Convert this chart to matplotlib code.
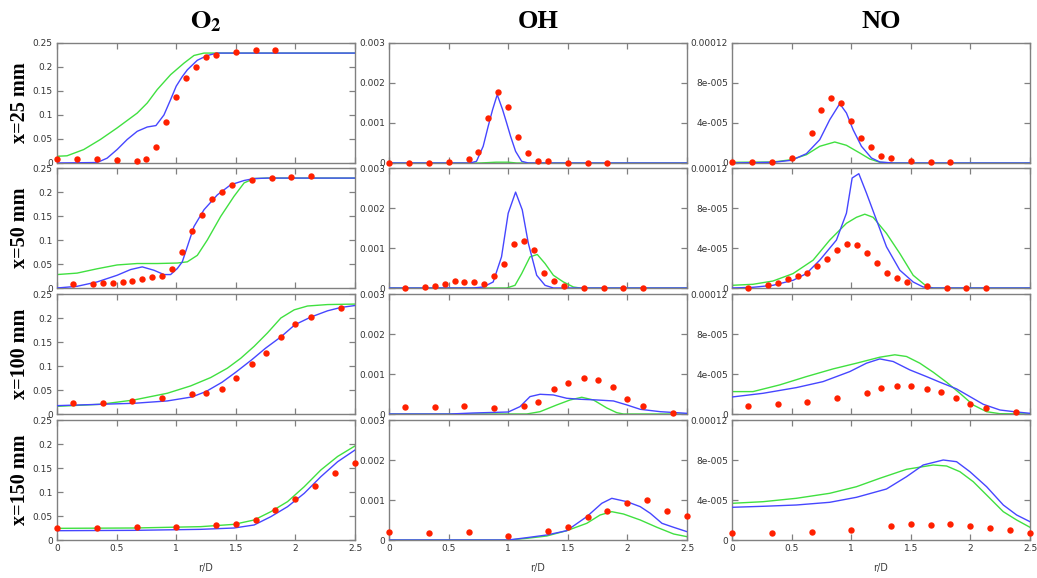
import matplotlib
matplotlib.use("Agg")
import matplotlib.pyplot as plt
import numpy as np

# measured radial positions (r/D) for each axial station
r25 = [0, 0.167, 0.333, 0.5, 0.667, 0.75, 0.833, 0.917, 1.0, 1.083, 1.167, 1.25, 1.333, 1.5, 1.667, 1.833]
r50 = [0.133, 0.3, 0.383, 0.467, 0.55, 0.633, 0.717, 0.8, 0.883, 0.967, 1.05, 1.133, 1.217, 1.3,
       1.383, 1.467, 1.633, 1.8, 1.967, 2.133]
r100 = [0.133, 0.383, 0.633, 0.883, 1.133, 1.25, 1.383, 1.5, 1.633, 1.75, 1.883, 2.0, 2.133, 2.383]
r150 = [0, 0.333, 0.667, 1.0, 1.333, 1.5, 1.667, 1.833, 2.0, 2.167, 2.333, 2.5]

# ---- O2 ----
o2_25_exp = [0.008, 0.008, 0.008, 0.006, 0.004, 0.008, 0.033, 0.085, 0.137, 0.178, 0.201, 0.22, 0.226,
             0.232, 0.235, 0.235]
o2_25_a_r = [0, 0.336, 0.42, 0.504, 0.589, 0.673, 0.757, 0.83, 0.897, 0.953, 1.0, 1.051, 1.093, 1.177,
             1.261, 1.345, 2.5]
o2_25_a = [0, 0.001, 0.010, 0.028, 0.049, 0.066, 0.075, 0.078, 0.1, 0.132, 0.16, 0.18, 0.194, 0.214,
           0.224, 0.229, 0.229]
o2_25_b_r = [0, 0.084, 0.224, 0.364, 0.504, 0.673, 0.757, 0.841, 0.953, 1.065, 1.149, 1.233, 2.5]
o2_25_b = [0.014, 0.015, 0.028, 0.049, 0.073, 0.104, 0.125, 0.153, 0.184, 0.208, 0.224, 0.229, 0.229]

o2_50_exp = [0.008, 0.008, 0.010, 0.011, 0.012, 0.014, 0.018, 0.022, 0.024, 0.040, 0.075, 0.119, 0.153,
             0.186, 0.201, 0.214, 0.224, 0.229, 0.231, 0.233]
o2_50_a_r = [0, 0.168, 0.336, 0.504, 0.617, 0.715, 0.813, 0.897, 0.953, 1.009, 1.051, 1.093, 1.149,
             1.233, 1.345, 1.457, 1.57, 1.654, 1.766, 2.5]
o2_50_a = [0, 0.0035, 0.0126, 0.0265, 0.0384, 0.044, 0.037, 0.028, 0.028, 0.0405, 0.0545, 0.0859,
           0.128, 0.163, 0.194, 0.215, 0.224, 0.228, 0.229, 0.229]
o2_50_b_r = [0, 0.168, 0.336, 0.504, 0.673, 0.841, 1.009, 1.093, 1.177, 1.261, 1.373, 1.485, 1.57,
             1.654, 1.766, 2.5]
o2_50_b = [0.028, 0.031, 0.040, 0.048, 0.051, 0.051, 0.052, 0.0545, 0.068, 0.100, 0.149, 0.191, 0.219,
           0.228, 0.229, 0.229]

o2_100_exp = [0.022, 0.022, 0.027, 0.033, 0.041, 0.044, 0.053, 0.075, 0.104, 0.128, 0.160, 0.187,
              0.203, 0.221]
o2_100_a_r = [0, 0.364, 0.645, 0.925, 1.132, 1.25, 1.385, 1.5, 1.634, 1.749, 1.88, 1.996, 2.13, 2.27,
              2.382, 2.5]
o2_100_a = [0.0174, 0.0202, 0.0223, 0.0272, 0.0355, 0.0468, 0.0662, 0.0871, 0.113, 0.137, 0.161,
            0.186, 0.202, 0.215, 0.222, 0.226]
o2_100_b_r = [0, 0.364, 0.645, 0.925, 1.121, 1.289, 1.429, 1.541, 1.654, 1.766, 1.878, 1.99, 2.102,
              2.27, 2.5]
o2_100_b = [0.016, 0.0202, 0.0292, 0.0432, 0.0585, 0.0759, 0.0954, 0.116, 0.141, 0.169, 0.2, 0.217,
            0.225, 0.228, 0.229]

o2_150_exp = [0.024, 0.026, 0.027, 0.027, 0.031, 0.034, 0.042, 0.063, 0.085, 0.112, 0.139, 0.160]
o2_150_a_r = [0, 0.645, 1.205, 1.485, 1.654, 1.794, 1.934, 2.074, 2.214, 2.354, 2.5]
o2_150_a = [0.0194, 0.0201, 0.0222, 0.025, 0.0313, 0.0486, 0.0694, 0.0972, 0.132, 0.163, 0.1875]
o2_150_b_r = [0, 0.645, 1.205, 1.485, 1.654, 1.794, 1.934, 2.074, 2.214, 2.354, 2.5]
o2_150_b = [0.0243, 0.025, 0.0278, 0.0326, 0.0417, 0.059, 0.0799, 0.111, 0.146, 0.174, 0.196]

# ---- OH ----
oh_25_exp = [0, 0, 0, 0.033e-3, 0.108e-3, 0.275e-3, 1.125e-3, 1.775e-3, 1.392e-3, 0.658e-3, 0.258e-3,
             0.058e-3, 0.042e-3, 0.008e-3, 0, 0]
oh_25_a_r = [0, 0.678, 0.734, 0.79, 0.832, 0.869, 0.908, 0.953, 0.987, 1.02, 1.062, 1.113, 1.169, 2.5]
oh_25_a = [0, 0, 0.042e-3, 0.417e-3, 0.917e-3, 1.333e-3, 1.708e-3, 1.333e-3, 1.0e-3, 0.667e-3,
           0.292e-3, 0.042e-3, 0, 0]
oh_25_b_r = [0, 0.76, 0.9, 1.0, 1.07, 2.5]
oh_25_b = [0, 0, 0.02e-3, 0.02e-3, 0, 0]

oh_50_exp = [0, 0.017e-3, 0.05e-3, 0.109e-3, 0.168e-3, 0.142e-3, 0.142e-3, 0.092e-3, 0.302e-3,
             0.612e-3, 1.107e-3, 1.165e-3, 0.955e-3, 0.386e-3, 0.168e-3, 0.042e-3, 0, 0, 0, 0]
oh_50_a_r = [0, 0.706, 0.79, 0.874, 0.944, 1.0, 1.062, 1.118, 1.169, 1.239, 1.309, 1.379, 2.5]
oh_50_a = [0, 0, 0.025e-3, 0.151e-3, 0.779e-3, 1.869e-3, 2.397e-3, 1.953e-3, 1.115e-3, 0.318e-3,
           0.067e-3, 0, 0]
oh_50_b_r = [0, 0.987, 1.057, 1.113, 1.183, 1.244, 1.309, 1.379, 1.463, 1.547, 1.603, 2.5]
oh_50_b = [0, 0, 0.067e-3, 0.36e-3, 0.779e-3, 0.838e-3, 0.612e-3, 0.318e-3, 0.151e-3, 0.025e-3, 0, 0]

oh_100_exp = [0.167e-3, 0.184e-3, 0.2e-3, 0.15e-3, 0.2e-3, 0.292e-3, 0.635e-3, 0.777e-3, 0.903e-3,
              0.844e-3, 0.669e-3, 0.368e-3, 0.2e-3, 0.033e-3]
oh_100_a_r = [0, 0.51, 0.706, 1.0, 1.099, 1.183, 1.267, 1.379, 1.491, 1.603, 1.743, 1.883, 1.996,
              2.108, 2.276, 2.5]
oh_100_a = [0, 0, 0.025e-3, 0.05e-3, 0.184e-3, 0.435e-3, 0.493e-3, 0.476e-3, 0.393e-3, 0.368e-3,
            0.351e-3, 0.326e-3, 0.226e-3, 0.117e-3, 0.058e-3, 0.017e-3]
oh_100_b_r = [0, 1.155, 1.267, 1.407, 1.519, 1.617, 1.715, 1.827, 1.911, 1.967, 2.5]
oh_100_b = [0, 0, 0.058e-3, 0.226e-3, 0.351e-3, 0.418e-3, 0.351e-3, 0.151e-3, 0.033e-3, 0, 0]

oh_150_exp = [0.192e-3, 0.175e-3, 0.192e-3, 0.108e-3, 0.225e-3, 0.333e-3, 0.567e-3, 0.717e-3,
              0.925e-3, 1.0e-3, 0.717e-3, 0.608e-3]
oh_150_a_r = [0, 1.0, 1.155, 1.323, 1.491, 1.659, 1.785, 1.869, 1.996, 2.108, 2.192, 2.29, 2.388, 2.5]
oh_150_a = [0, 0, 0.058e-3, 0.125e-3, 0.233e-3, 0.583e-3, 0.917e-3, 1.042e-3, 0.958e-3, 0.833e-3,
            0.667e-3, 0.417e-3, 0.317e-3, 0.208e-3]
oh_150_b_r = [0, 1.014, 1.155, 1.323, 1.491, 1.659, 1.771, 1.869, 1.967, 2.108, 2.248, 2.388, 2.5]
oh_150_b = [0, 0, 0.042e-3, 0.1e-3, 0.233e-3, 0.417e-3, 0.625e-3, 0.708e-3, 0.65e-3, 0.5e-3,
            0.317e-3, 0.15e-3, 0.083e-3]

# ---- NO (units of 1e-5) ----
no_25_exp = [0.07, 0.07, 0.07, 0.53, 2.97, 5.3, 6.5, 6.0, 4.2, 2.53, 1.57, 0.73, 0.5, 0.17, 0.07, 0.07]
no_25_a_r = [0, 0.344, 0.498, 0.624, 0.736, 0.82, 0.904, 0.96, 1.016, 1.086, 1.17, 1.24, 1.352, 2.5]
no_25_a = [0, 0.07, 0.27, 0.93, 2.33, 4.33, 5.93, 5.0, 3.33, 1.67, 0.5, 0.1, 0, 0]
no_25_b_r = [0, 0.344, 0.498, 0.624, 0.736, 0.862, 0.96, 1.072, 1.156, 1.24, 1.352, 2.5]
no_25_b = [0.07, 0.1, 0.33, 0.83, 1.67, 2.1, 1.77, 1.0, 0.4, 0.07, 0, 0]

no_50_exp = [0.03, 0.34, 0.54, 0.91, 1.17, 1.51, 2.21, 2.92, 3.79, 4.36, 4.26, 3.49, 2.55, 1.48, 1.04,
             0.6, 0.23, 0.03, 0, 0]
no_50_a_r = [0, 0.176, 0.344, 0.512, 0.624, 0.736, 0.876, 0.96, 1.008, 1.064, 1.128, 1.212, 1.296,
             1.408, 1.52, 1.604, 1.688, 2.5]
no_50_a = [0, 0.07, 0.27, 0.77, 1.44, 2.78, 4.79, 7.48, 11.0, 11.43, 9.49, 6.8, 4.12, 1.78, 0.6, 0.1,
           0, 0]
no_50_b_r = [0, 0.176, 0.344, 0.512, 0.68, 0.82, 0.96, 1.044, 1.114, 1.184, 1.296, 1.408, 1.52, 1.632,
             1.688, 2.5]
no_50_b = [0.27, 0.37, 0.7, 1.44, 2.78, 4.79, 6.47, 7.07, 7.38, 7.07, 5.46, 3.45, 1.27, 0.17, 0, 0]

no_100_exp = [0.8, 0.97, 1.24, 1.57, 2.11, 2.61, 2.84, 2.84, 2.47, 2.24, 1.57, 0.97, 0.6, 0.23]
no_100_a_r = [0, 0.26, 0.54, 0.764, 0.988, 1.128, 1.24, 1.352, 1.492, 1.632, 1.744, 1.884, 1.996,
              2.108, 2.248, 2.388, 2.5]
no_100_a = [1.7, 2.07, 2.64, 3.24, 4.24, 5.08, 5.51, 5.25, 4.41, 3.74, 3.18, 2.51, 1.74, 0.97, 0.4,
            0.2, 0.07]
no_100_b_r = [0, 0.176, 0.4, 0.624, 0.848, 1.044, 1.24, 1.366, 1.464, 1.576, 1.688, 1.8, 1.912, 2.024,
              2.136, 2.248, 2.5]
no_100_b = [2.24, 2.24, 2.91, 3.74, 4.51, 5.08, 5.68, 5.92, 5.75, 5.08, 4.18, 3.18, 2.07, 0.9, 0.23,
            0.03, 0]

no_150_exp = [0.67, 0.73, 0.83, 1.03, 1.37, 1.6, 1.53, 1.6, 1.43, 1.23, 0.97, 0.73]
no_150_a_r = [0, 0.26, 0.54, 0.82, 1.044, 1.296, 1.464, 1.604, 1.772, 1.884, 1.996, 2.136, 2.276,
              2.388, 2.5]
no_150_a = [3.27, 3.37, 3.5, 3.77, 4.27, 5.1, 6.33, 7.5, 8.0, 7.83, 6.83, 5.33, 3.5, 2.5, 1.83]
no_150_b_r = [0, 0.26, 0.54, 0.82, 1.044, 1.24, 1.464, 1.688, 1.8, 1.912, 2.024, 2.136, 2.276, 2.388,
              2.5]
no_150_b = [3.67, 3.83, 4.17, 4.67, 5.33, 6.17, 7.07, 7.5, 7.4, 6.83, 5.83, 4.5, 2.83, 2.0, 1.27]

row_labels = ["x=25 mm", "x=50 mm", "x=100 mm", "x=150 mm"]
x_ticks = [0, 0.5, 1, 1.5, 2, 2.5]
x_ticklabels = ["0", "0.5", "1", "1.5", "2", "2.5"]
o2_ticks = [0, 0.05, 0.1, 0.15, 0.2, 0.25]
o2_ticklabels = ["0", "0.05", "0.1", "0.15", "0.2", "0.25"]
oh_ticks = [0, 0.001, 0.002, 0.003]
oh_ticklabels = ["0", "0.001", "0.002", "0.003"]
no_ticks = [0, 4e-5, 8e-5, 1.2e-4]
no_ticklabels = ["0", "4e-005", "8e-005", "0.00012"]

exp_r = [r25, r50, r100, r150]
panels = [
    [(o2_25_exp, o2_25_a_r, o2_25_a, o2_25_b_r, o2_25_b),
     (oh_25_exp, oh_25_a_r, oh_25_a, oh_25_b_r, oh_25_b),
     (no_25_exp, no_25_a_r, no_25_a, no_25_b_r, no_25_b)],
    [(o2_50_exp, o2_50_a_r, o2_50_a, o2_50_b_r, o2_50_b),
     (oh_50_exp, oh_50_a_r, oh_50_a, oh_50_b_r, oh_50_b),
     (no_50_exp, no_50_a_r, no_50_a, no_50_b_r, no_50_b)],
    [(o2_100_exp, o2_100_a_r, o2_100_a, o2_100_b_r, o2_100_b),
     (oh_100_exp, oh_100_a_r, oh_100_a, oh_100_b_r, oh_100_b),
     (no_100_exp, no_100_a_r, no_100_a, no_100_b_r, no_100_b)],
    [(o2_150_exp, o2_150_a_r, o2_150_a, o2_150_b_r, o2_150_b),
     (oh_150_exp, oh_150_a_r, oh_150_a, oh_150_b_r, oh_150_b),
     (no_150_exp, no_150_a_r, no_150_a, no_150_b_r, no_150_b)],
]
# NO columns are stored in 1e-5 units
col_scale = [1.0, 1.0, 1e-5]
col_ylim = [0.25, 0.003, 1.2e-4]
col_ticks = [(o2_ticks, o2_ticklabels), (oh_ticks, oh_ticklabels), (no_ticks, no_ticklabels)]

plt.rcParams["mathtext.fontset"] = "stix"

W, H = 1037, 578
fig = plt.figure(figsize=(W / 100, H / 100), dpi=100)

col_left = [57, 389, 732]
col_width = 298
row_top = [43, 168, 294, 420]
row_height = 120

frame = "#808080"
for i in range(4):
    for j in range(3):
        left = col_left[j] / W
        bottom = 1 - (row_top[i] + row_height) / H
        ax = fig.add_axes([left, bottom, col_width / W, row_height / H])
        exp, a_r, a_v, b_r, b_v = panels[i][j]
        s = col_scale[j]
        ax.plot(b_r, np.array(b_v) * s, color="#40e040", lw=1.0, zorder=2)
        ax.plot(a_r, np.array(a_v) * s, color="#4646ff", lw=1.0, zorder=3)
        ax.plot(exp_r[i], np.array(exp) * s, "o", color="#ff2000", ms=4.6, mec="none",
                zorder=4, clip_on=False)
        ax.set_xlim(0, 2.5)
        ax.set_ylim(0, col_ylim[j])
        ax.set_xticks(x_ticks)
        ticks, labels = col_ticks[j]
        ax.set_yticks(ticks)
        ax.set_yticklabels(labels)
        if i == 3:
            ax.set_xticklabels(x_ticklabels)
            ax.set_xlabel("r/D", fontsize=7, color="#404040", labelpad=7)
        else:
            ax.set_xticklabels([])
        ax.tick_params(direction="in", length=4, width=0.9, color=frame, top=True, right=True,
                       labelsize=6.5, labelcolor="#333333", pad=3)
        for sp in ax.spines.values():
            sp.set_color(frame)
            sp.set_linewidth(1.0)

        if j == 0:
            fig.text(20 / W, 1 - (row_top[i] + row_height / 2) / H, row_labels[i], rotation=90,
                     ha="center", va="center", fontsize=14.5, fontweight="bold",
                     family="Liberation Serif")

titles = [r"$\mathbf{O_2}$", "OH", "NO"]
for j in range(3):
    fig.text((col_left[j] + col_width / 2) / W, 1 - 22 / H, titles[j], ha="center", va="center",
             fontsize=19, fontweight="bold", family="Liberation Serif")

fig.savefig("out.png", dpi=100)
